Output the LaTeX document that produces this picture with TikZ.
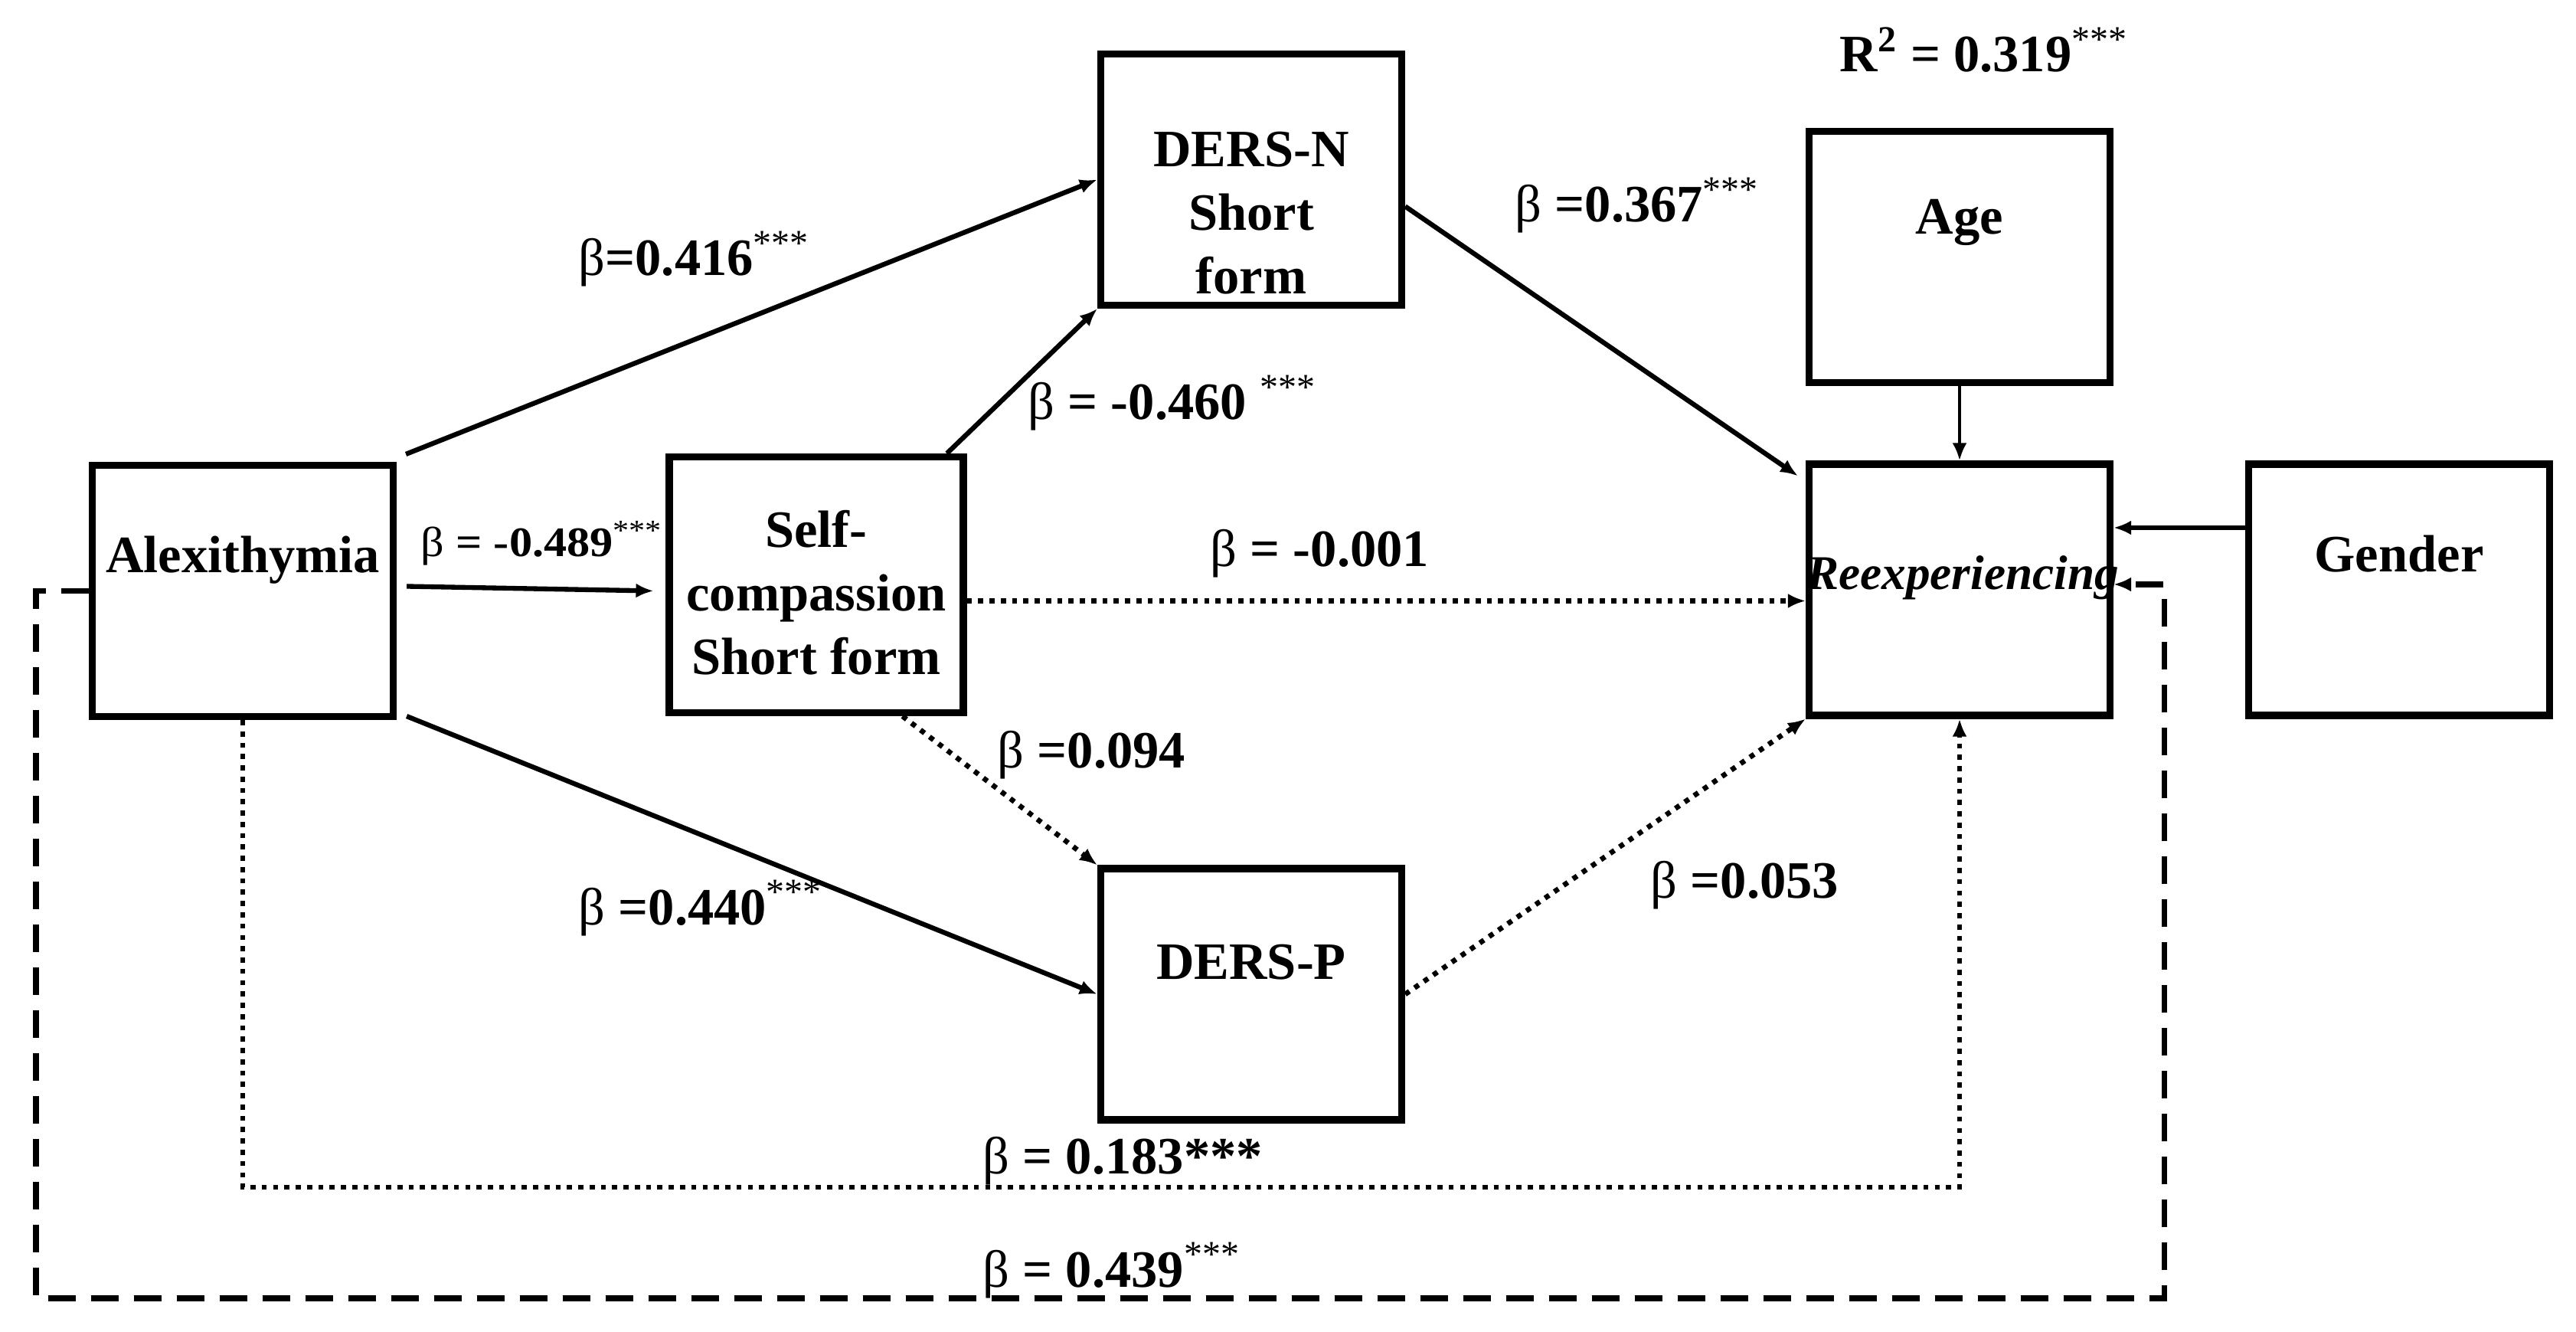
\documentclass[tikz,border=0pt]{standalone}
\usepackage{fontspec}
\setmainfont{Liberation Serif}
\usepackage{graphicx}
\usepackage{tikz}
\usetikzlibrary{arrows.meta}
\usetikzlibrary{calc}
\usetikzlibrary{positioning}

\newcommand{\betasym}{{\mdseries β}}
\newcommand{\sigstar}{\textsuperscript{\mdseries ***}}

\begin{document}
\begin{tikzpicture}[>={Latex[length=2.3mm,width=1.9mm]}]
	\tikzstyle{var}=[draw, rectangle, line width=2.6pt, minimum width=3.93cm, minimum height=3.28cm, inner sep=0pt]
	\tikzstyle{lab}=[font=\bfseries\fontsize{19.5}{23.6}\selectfont, align=center]
	\tikzstyle{coef}=[anchor=base west, inner sep=0pt, font=\bfseries\fontsize{19.5}{23.6}\selectfont]
	\tikzstyle{sig}=[->, line width=1.8pt]
	\tikzstyle{ns}=[->, line width=1.9pt, dash pattern=on 1.9pt off 2.3pt]
	\tikzstyle{tot}=[->, line width=2pt, dash pattern=on 3.6mm off 2mm]
	\useasboundingbox (0,0) rectangle (33.64,-17.39);
		\node[var, label={[lab,yshift=4mm]center:Alexithymia}] (alex) at (3.17,-7.715) {};
		\node[var, minimum width=3.84cm, minimum height=3.34cm, label={[lab,yshift=-1mm]center:Self-\\compassion\\Short form}] (self) at (10.66,-7.635) {};
		\node[var, label={[lab,yshift=-4.4mm]center:DERS-N\\Short\\form}] (dersn) at (16.34,-2.345) {};
		\node[var, label={[lab,yshift=4.2mm]center:DERS-P}] (dersp) at (16.34,-12.98) {};
		\node[var, label={[lab,yshift=4.5mm]center:Age}] (age) at (25.59,-3.355) {};
		\node[var, label={[lab,font=\bfseries\itshape\fontsize{18}{21}\selectfont,yshift=1.6mm,xshift=0.4mm]center:Reexperiencing}] (reex) at (25.59,-7.70) {};
		\node[var, label={[lab,yshift=4.7mm]center:Gender}] (gender) at (31.33,-7.70) {};
		\coordinate (low1) at (0,-15.5);
		\coordinate (low2) at (0.47,-16.95);
		\coordinate (right2) at (28.26,-16.95);
		\draw[sig] ([shift={(0.12,0.1)}]alex.north east) -- (dersn.west);
		\draw[sig] ([xshift=-2.6mm]self.north east) -- (dersn.south west);
		\draw[sig] ([shift={(0.13,0.06)}]alex.east) -- ([shift={(-0.16,-0.08)}]self.west);
		\draw[ns] ([yshift=-2.1mm]self.east) -- ([yshift=-2.1mm]self.east -| reex.west);
		\draw[sig] ([shift={(0.13,0.05)}]alex.south east) -- (dersp.west);
		\draw[ns] ([xshift=-8.4mm]self.south east) -- (dersp.north west);
		\draw[sig] ([yshift=-3.5mm]dersn.east) -- ([shift={(-0.1,-0.2)}]reex.north west);
		\draw[ns] (dersp.east) -- (reex.south west);
		\draw[->, line width=1.3pt] (age) -- (reex);
		\draw[->, line width=1.5pt] ([yshift=8.1mm]gender.west) -- ([yshift=8.1mm]gender.west -| reex.east);
		\draw[ns] (alex.south) -- (alex.south |- low1) -| (reex.south);
		\draw[tot] (alex.west) -| (low2) -- (right2) |- ([yshift=0.7mm]reex.east);
		\node[coef] (r2) at (24.02,-0.94) {R\textsuperscript{2} = 0.319\sigstar};
		\node[coef] (c416) at (7.55,-3.60) {\betasym=0.416\sigstar};
		\node[coef] (c489) at (5.49,-7.27) {\scalebox{0.88}[0.8]{\betasym{} = -0.489\sigstar}};
		\node[coef] (c367) at (19.78,-2.90) {\betasym{} =0.367\sigstar};
		\node[coef] (c460) at (13.42,-5.48) {\betasym{} = -0.460 \sigstar};
		\node[coef] (c001) at (15.80,-7.40) {\betasym{} = -0.001};
		\node[coef] (c094) at (13.02,-10.03) {\betasym{} =0.094};
		\node[coef] (c053) at (21.55,-11.72) {\betasym{} =0.053};
		\node[coef] (c440) at (7.55,-12.07) {\betasym{} =0.440\sigstar};
		\node[coef] (c183) at (12.83,-15.32) {\betasym{} = 0.183***};
		\node[coef] (c439) at (12.83,-16.80) {\betasym{} = 0.439\sigstar};
\end{tikzpicture}
\end{document}
